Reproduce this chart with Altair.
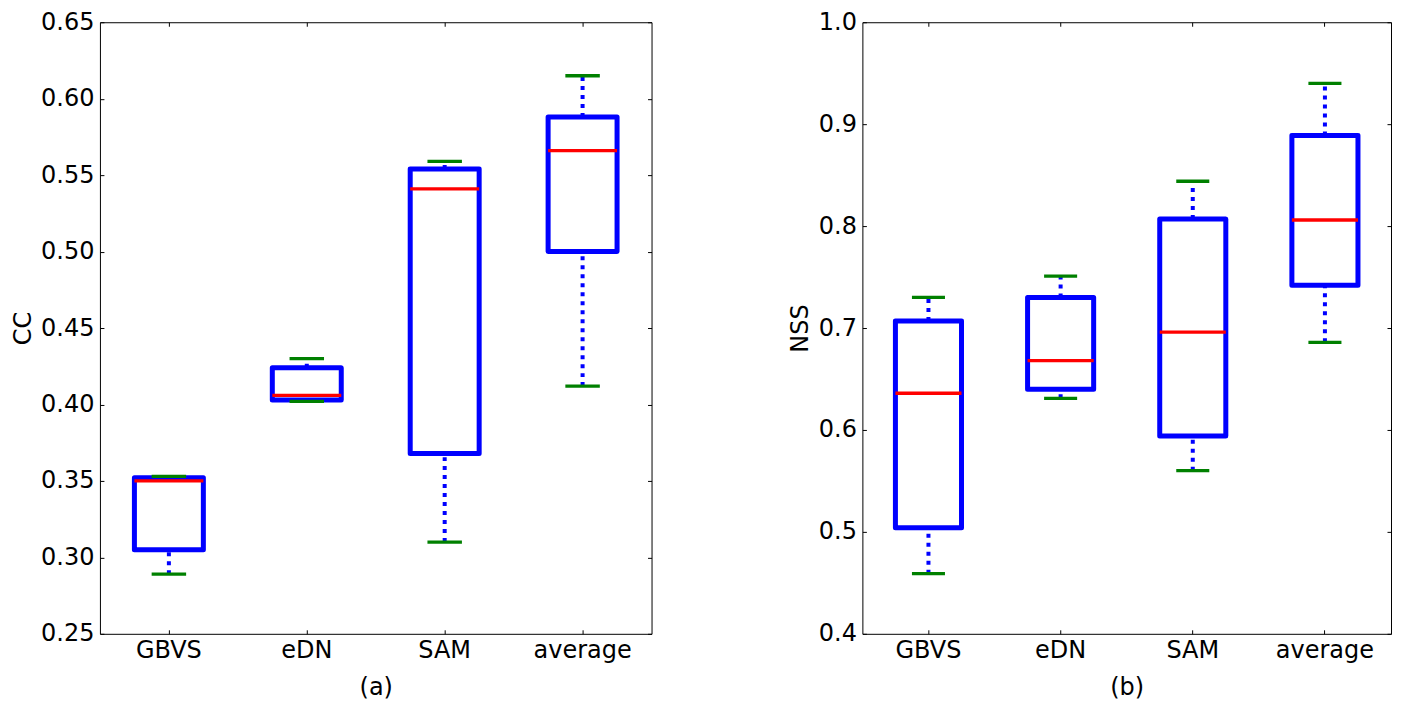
import altair as alt
import pandas as pd

categories = ["GBVS", "eDN", "SAM", "average"]

# Panel (a): CC
cc_low = [0.289, 0.402, 0.310, 0.412]
cc_q1 = [0.305, 0.403, 0.368, 0.500]
cc_med = [0.350, 0.406, 0.541, 0.566]
cc_q3 = [0.352, 0.424, 0.554, 0.588]
cc_high = [0.353, 0.430, 0.559, 0.615]
cc_ticks = [0.25, 0.30, 0.35, 0.40, 0.45, 0.50, 0.55, 0.60, 0.65]

# Panel (b): NSS
nss_low = [0.459, 0.631, 0.560, 0.686]
nss_q1 = [0.504, 0.640, 0.594, 0.742]
nss_med = [0.636, 0.668, 0.696, 0.806]
nss_q3 = [0.707, 0.730, 0.807, 0.889]
nss_high = [0.730, 0.751, 0.844, 0.940]
nss_ticks = [0.4, 0.5, 0.6, 0.7, 0.8, 0.9, 1.0]

BLUE = "#0000ff"
RED = "#ff0000"
GREEN = "#008000"
FS = 24


def panel(low, q1, med, q3, high, ticks, fmt, ytitle, xtitle, width, height,
          ytitle_pad):
    df = pd.DataFrame({"cat": categories, "low": low, "q1": q1, "med": med,
                       "q3": q3, "high": high})
    step = width / len(categories)
    box_w = step * 0.5
    xscale = alt.Scale(domain=categories, paddingInner=0, paddingOuter=0)
    yscale = alt.Scale(domain=[ticks[0], ticks[-1]], nice=False, zero=False)
    base = alt.Chart(df)

    x_bottom = alt.X("cat:N", sort=categories, scale=xscale, title=xtitle,
                     axis=alt.Axis(orient="bottom", offset=-4, tickSize=4,
                                   domain=False, grid=False, labelAngle=0,
                                   labelPadding=5, titlePadding=13,
                                   tickColor="black"))
    x_top = alt.X("cat:N", sort=categories, scale=xscale,
                  axis=alt.Axis(orient="top", offset=-4, tickSize=4,
                                domain=False, grid=False, labels=False,
                                title=None, tickColor="black"))
    x_none = alt.X("cat:N", sort=categories, scale=xscale, axis=None)

    whisk_lo = base.mark_rule(color=BLUE, strokeWidth=4, opacity=1,
                              strokeDash=[4, 5]).encode(
        x=x_bottom,
        y=alt.Y("low:Q", scale=yscale, title=ytitle,
                axis=alt.Axis(orient="left", offset=-4, tickSize=4,
                              domain=False, grid=False, values=ticks,
                              format=fmt, labelPadding=6,
                              titlePadding=ytitle_pad, tickColor="black")),
        y2="q1:Q",
    )
    whisk_hi = base.mark_rule(color=BLUE, strokeWidth=4, opacity=1,
                              strokeDash=[4, 5]).encode(
        x=x_top,
        y=alt.Y("q3:Q", scale=yscale,
                axis=alt.Axis(orient="right", offset=-4, tickSize=4,
                              domain=False, grid=False, values=ticks,
                              labels=False, title=None, tickColor="black")),
        y2="high:Q",
    )
    box = base.mark_bar(size=box_w, fill="white", fillOpacity=0, stroke=BLUE,
                        strokeOpacity=1, strokeWidth=5,
                        strokeJoin="round").encode(
        x=x_none,
        y=alt.Y("q1:Q", scale=yscale, axis=None),
        y2="q3:Q",
    )
    cap_lo = base.mark_tick(color=GREEN, size=box_w / 2, thickness=3.3,
                            opacity=1, orient="horizontal").encode(
        x=x_none, y=alt.Y("low:Q", scale=yscale, axis=None))
    cap_hi = base.mark_tick(color=GREEN, size=box_w / 2, thickness=3.3,
                            opacity=1, orient="horizontal").encode(
        x=x_none, y=alt.Y("high:Q", scale=yscale, axis=None))
    median = base.mark_tick(color=RED, size=box_w, thickness=3.3,
                            opacity=1, orient="horizontal").encode(
        x=x_none, y=alt.Y("med:Q", scale=yscale, axis=None))

    return alt.layer(whisk_lo, whisk_hi, box, cap_lo, cap_hi, median).resolve_axis(
        x="independent", y="independent").properties(width=width, height=height)


left = panel(cc_low, cc_q1, cc_med, cc_q3, cc_high, cc_ticks, ".2f", "CC",
             "(a)", 552, 612, 5)
right = panel(nss_low, nss_q1, nss_med, nss_q3, nss_high, nss_ticks, ".1f",
              "NSS", "(b)", 529, 612, 6)

chart = alt.hconcat(left, right, spacing=135).properties(
    padding={"left": 3, "top": 1, "right": 2, "bottom": 2}
).configure(font="DejaVu Sans").configure_view(
    stroke="black", strokeWidth=1
).configure_axis(
    labelFontSize=FS, titleFontSize=FS, titleFontWeight="normal",
    labelColor="black", titleColor="black", labelFont="DejaVu Sans",
    titleFont="DejaVu Sans"
)

chart.save("out.html", embed_options={"renderer": "svg", "actions": False})
